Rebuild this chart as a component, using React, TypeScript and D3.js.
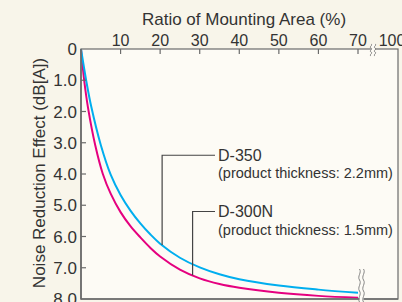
import React, { useEffect, useRef } from 'react';
import * as d3 from 'd3';

// Ratio of mounting area (%) vs noise reduction effect (dB[A])
const d350Ratio = [0, 1.3, 2.6, 5, 7.5, 10, 12.5, 15, 17.5, 20, 25, 30, 35, 40, 50, 60, 70];
const d350Noise = [0, 1.0, 1.85, 3.07, 4.02, 4.67, 5.17, 5.58, 5.93, 6.23, 6.68, 6.99, 7.21, 7.37, 7.57, 7.7, 7.8];

const d300nRatio = [0, 0.8, 1.8, 3.6, 5.5, 7.5, 10, 12.5, 15, 17.5, 20, 25, 30, 35, 40, 50, 60, 70];
const d300nNoise = [0, 1.0, 1.9, 3.08, 3.99, 4.63, 5.22, 5.67, 6.03, 6.36, 6.64, 7.06, 7.34, 7.52, 7.64, 7.8, 7.9, 7.96];

const xTicks = [10, 20, 30, 40, 50, 60, 70];
const yTicks = [0, 1, 2, 3, 4, 5, 6, 7, 8];

const labels = [
  { name: 'D-350', note: '(product thickness: 2.2mm)', ratio: 20.5, textNoise: 3.4 },
  { name: 'D-300N', note: '(product thickness: 1.5mm)', ratio: 28.2, textNoise: 5.2 },
];

const W = 402;
const H = 302;
const FONT = '"Liberation Sans", Arial, Helvetica, sans-serif';

export default function App() {
  const svgRef = useRef<SVGSVGElement>(null);

  useEffect(() => {
    const svg = d3.select(svgRef.current);
    svg.selectAll('*').remove();

    const left = 81, right = 398, top = 49, bottom = 299;
    const x = d3.scaleLinear().domain([0, 70]).range([left, 358]);
    const y = d3.scaleLinear().domain([0, 8]).range([top, bottom]);

    svg.append('rect').attr('width', W).attr('height', H).attr('fill', '#f8f5ea');
    svg.append('rect')
      .attr('x', left).attr('y', top)
      .attr('width', right - left).attr('height', bottom - top)
      .attr('fill', '#fdfbf5');

    const line = d3.line<[number, number]>()
      .x(d => x(d[0]))
      .y(d => y(d[1]))
      .curve(d3.curveCatmullRom.alpha(0.5));

    const series = [
      { ratio: d300nRatio, noise: d300nNoise, color: '#e5007f' },
      { ratio: d350Ratio, noise: d350Noise, color: '#00aeef' },
    ];
    series.forEach(s => {
      const pts = s.ratio.map((r, i) => [r, s.noise[i]] as [number, number]);
      svg.append('path')
        .attr('d', line(pts))
        .attr('fill', 'none')
        .attr('stroke', s.color)
        .attr('stroke-width', 2);
    });

    // frame
    const axisColor = '#6b6b6b';
    svg.append('rect')
      .attr('x', left).attr('y', top)
      .attr('width', right - left).attr('height', bottom - top)
      .attr('fill', 'none').attr('stroke', axisColor).attr('stroke-width', 1.2);
    svg.append('line')
      .attr('x1', left).attr('x2', left).attr('y1', top).attr('y2', bottom + 0.6)
      .attr('stroke', axisColor).attr('stroke-width', 1.6);
    svg.append('line')
      .attr('x1', left).attr('x2', right).attr('y1', bottom).attr('y2', bottom)
      .attr('stroke', axisColor).attr('stroke-width', 1.6);

    // x ticks (top)
    xTicks.forEach(t => {
      svg.append('line')
        .attr('x1', x(t)).attr('x2', x(t)).attr('y1', top).attr('y2', top + 5)
        .attr('stroke', axisColor).attr('stroke-width', 1.2);
      svg.append('text')
        .attr('x', x(t)).attr('y', top - 3)
        .attr('text-anchor', 'middle')
        .attr('font-size', 16).attr('font-family', FONT).attr('fill', '#333')
        .text(t);
    });
    svg.append('text')
      .attr('x', 392).attr('y', top - 3)
      .attr('text-anchor', 'middle')
      .attr('font-size', 16).attr('font-family', FONT).attr('fill', '#333')
      .text(100);

    // y ticks (left)
    yTicks.forEach(t => {
      if (t > 0 && t < 8) {
        svg.append('line')
          .attr('x1', left).attr('x2', left + 5).attr('y1', y(t)).attr('y2', y(t))
          .attr('stroke', axisColor).attr('stroke-width', 1.2);
      }
      svg.append('text')
        .attr('x', 77).attr('y', y(t))
        .attr('dy', '0.36em')
        .attr('text-anchor', 'end')
        .attr('font-size', 17).attr('font-family', FONT).attr('fill', '#333')
        .text(t === 0 ? '0' : d3.format('.1f')(t));
    });

    // axis titles
    svg.append('text')
      .attr('x', 244).attr('y', 25)
      .attr('text-anchor', 'middle')
      .attr('font-size', 17).attr('font-family', FONT).attr('fill', '#333')
      .text('Ratio of Mounting Area (%)');
    svg.append('text')
      .attr('transform', `translate(45, 173) rotate(-90)`)
      .attr('text-anchor', 'middle')
      .attr('font-size', 17).attr('font-family', FONT).attr('fill', '#333')
      .text('Noise Reduction Effect (dB[A])');

    // break marks
    const wave = (x0: number, y0: number, y1: number) => {
      const n = 3;
      const h = (y1 - y0) / n;
      let d = `M${x0},${y0}`;
      for (let i = 0; i < n; i++) {
        const ya = y0 + i * h;
        d += ` C${x0 + 2.5},${ya + h * 0.33} ${x0 - 2.5},${ya + h * 0.66} ${x0},${ya + h}`;
      }
      return d;
    };
    const breakMark = (xc: number, y0: number, y1: number) => {
      svg.append('rect')
        .attr('x', xc - 2).attr('y', y0).attr('width', 4).attr('height', y1 - y0)
        .attr('fill', '#fdfbf5');
      [xc - 2, xc + 2].forEach(xx => {
        svg.append('path')
          .attr('d', wave(xx, y0, y1))
          .attr('fill', 'none').attr('stroke', '#777').attr('stroke-width', 0.9);
      });
    };
    breakMark(361.5, 269, 302);
    breakMark(373, 44, 56);

    // leaders: vertical from the curve, then across to the label
    const curveAt = [
      d3.scaleLinear().domain(d350Ratio).range(d350Noise),
      d3.scaleLinear().domain(d300nRatio).range(d300nNoise),
    ];
    labels.forEach((l, i) => {
      const lx = x(l.ratio);
      const ly = y(l.textNoise);
      svg.append('path')
        .attr('d', `M${lx},${y(curveAt[i](l.ratio))} L${lx},${ly} L215,${ly}`)
        .attr('fill', 'none').attr('stroke', '#444').attr('stroke-width', 1.2);
      svg.append('text')
        .attr('x', 218).attr('y', ly + 5.5)
        .attr('font-size', 16).attr('font-family', FONT).attr('fill', '#333')
        .text(l.name);
      svg.append('text')
        .attr('x', 218).attr('y', ly + 23)
        .attr('font-size', 14.5).attr('font-family', FONT).attr('fill', '#333')
        .text(l.note);
    });
  }, []);

  return (
    <svg
      ref={svgRef}
      width={W}
      height={H}
      style={{ position: 'absolute', left: 0, top: 0, display: 'block' }}
    />
  );
}
